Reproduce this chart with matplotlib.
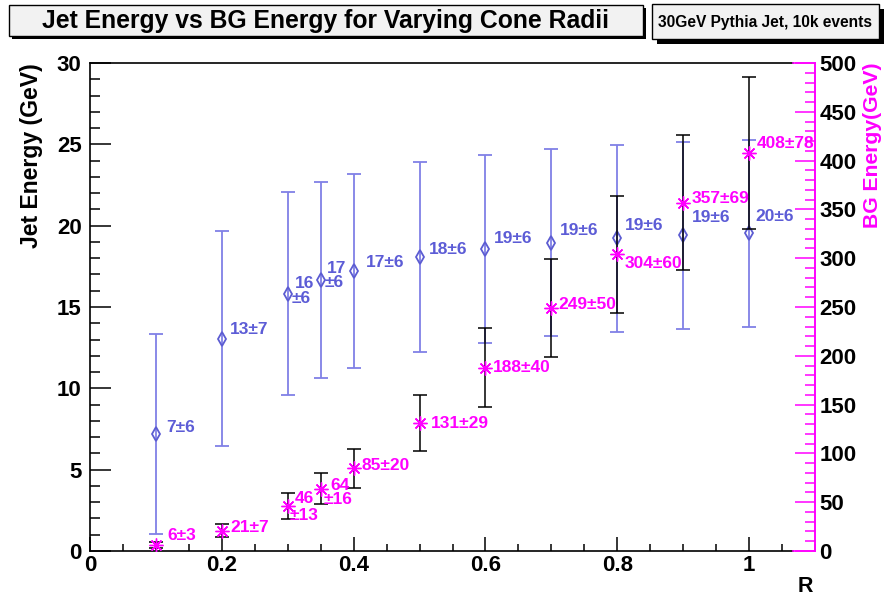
import matplotlib
matplotlib.use("Agg")
import matplotlib.pyplot as plt
from matplotlib.patches import Rectangle
from matplotlib.ticker import MultipleLocator, FuncFormatter

# ---------------- data ----------------
R = [0.1, 0.2, 0.3, 0.35, 0.4, 0.5, 0.6, 0.7, 0.8, 0.9, 1.0]
jet_E = [7.18, 13.06, 15.82, 16.64, 17.23, 18.07, 18.58, 18.95, 19.22, 19.40, 19.52]
jet_err = [6.14, 6.60, 6.25, 6.02, 5.96, 5.82, 5.79, 5.74, 5.74, 5.76, 5.76]
bg_E = [6, 21, 46, 64, 85, 131, 188, 249, 304, 357, 408]
bg_err = [3, 7, 13, 16, 20, 29, 40, 50, 60, 69, 78]
jet_labels = ["7±6", "13±7", "16\n±6", "17\n±6", "17±6", "18±6", "19±6", "19±6", "19±6", "19±6", "20±6"]
bg_labels = ["6±3", "21±7", "46\n±13", "64\n±16", "85±20", "131±29", "188±40", "249±50", "304±60", "357±69", "408±78"]
title = "Jet Energy vs BG Energy for Varying Cone Radii"
subtitle = "30GeV Pythia Jet, 10k events"

# label placement (pixel offsets from the point, per text line; y down)
jet_off = [[(10, -6.6)], [(8, -9)], [(6.7, -9.7), (3.4, 4.6)], [(6, -12), (4.3, 2.4)],
           [(12, -8.7)], [(9.3, -8)], [(8.3, -10)], [(9, -12.7)], [(7.8, -13)],
           [(8.4, -18.4)], [(6, -16.6)]]
bg_off = [[(11.3, -10)], [(8.7, -3)], [(6.6, -7.2), (1.6, 9.3)], [(9.3, -3.5), (2.6, 10.5)],
          [(7.7, -2.3)], [(11.7, 0)], [(7.6, 0)], [(7, -3)], [(7.6, 9.7)],
          [(8, -4.3)], [(8, -9.3)]]

# ---------------- style ----------------
plt.rcParams['font.family'] = ['Liberation Sans', 'DejaVu Sans']
plt.rcParams['font.weight'] = 'bold'
MAG = '#ff00ff'
BLUE_BAR = '#8080e6'
BLUE_MK = '#5c5cd2'
BLUE_TXT = '#5c5cd6'
LAB_FS = 12.5

W, H = 884, 597
fig = plt.figure(figsize=(W / 100, H / 100), dpi=100)
fig.patch.set_facecolor('white')

L, Rr, T, B = 90, 815, 63, 551
ax = fig.add_axes([L / W, 1 - B / H, (Rr - L) / W, (B - T) / H])
ax2 = ax.twinx()

ax.set_xlim(0, 1.1)
ax.set_ylim(0, 30)
ax2.set_ylim(0, 500)

# Jet energy (blue)
ax.errorbar(R, jet_E, yerr=jet_err, fmt='none', ecolor=BLUE_BAR, elinewidth=1.3,
            capsize=5, capthick=1.3, zorder=2)
# BG energy (black bars, magenta stars)
ax2.errorbar(R, bg_E, yerr=bg_err, fmt='none', ecolor='black', elinewidth=1.1,
             capsize=5, capthick=1.1, zorder=3)
ax2.set_ylim(0, 500)
ax.plot(R, jet_E, linestyle='none', marker='d', markersize=7.5, markerfacecolor='none',
        markeredgecolor=BLUE_MK, markeredgewidth=1.3, zorder=5)
ax2.plot(R, bg_E, linestyle='none', marker=(8, 2, 0), markersize=10,
         markeredgecolor=MAG, markeredgewidth=1.0, color=MAG, zorder=6)

# labels
for x, y, lab, offs in zip(R, jet_E, jet_labels, jet_off):
    for line, (dx, dy) in zip(lab.split('\n'), offs):
        ax.annotate(line, (x, y), xytext=(dx, -dy), textcoords='offset pixels',
                    ha='left', va='center', fontsize=LAB_FS, color=BLUE_TXT,
                    fontweight='bold', zorder=7)
for x, y, lab, offs in zip(R, bg_E, bg_labels, bg_off):
    for line, (dx, dy) in zip(lab.split('\n'), offs):
        ax2.annotate(line, (x, y), xytext=(dx, -dy), textcoords='offset pixels',
                     ha='left', va='center', fontsize=LAB_FS, color=MAG,
                     fontweight='bold', zorder=7)

# ticks
ax.xaxis.set_major_locator(MultipleLocator(0.2))
ax.xaxis.set_minor_locator(MultipleLocator(0.05))
ax.xaxis.set_major_formatter(FuncFormatter(lambda v, p: '%g' % round(v, 3)))
ax.yaxis.set_major_locator(MultipleLocator(5))
ax.yaxis.set_minor_locator(MultipleLocator(1))
ax2.yaxis.set_major_locator(MultipleLocator(50))
ax2.yaxis.set_minor_locator(MultipleLocator(10))

ax.tick_params(axis='x', which='major', direction='in', length=10, width=1.1,
               labelsize=16, pad=3, top=False, colors='black')
ax.tick_params(axis='x', which='minor', direction='in', length=5.4, width=1.1, top=False)
ax.tick_params(axis='y', which='major', direction='in', length=15, width=1.1,
               labelsize=16, pad=6, right=False)
ax.tick_params(axis='y', which='minor', direction='in', length=7.5, width=1.1, right=False)
ax2.tick_params(axis='y', which='major', direction='in', length=14.4, width=1.1,
                labelsize=16, pad=3, color=MAG, labelcolor='black')
ax2.tick_params(axis='y', which='minor', direction='in', length=7.2, width=1.1, color=MAG)
for lab in ax.get_xticklabels() + ax.get_yticklabels() + ax2.get_yticklabels():
    lab.set_fontweight('bold')

# spines
xsplit = 1.0667
for s in ('top', 'bottom'):
    ax.spines[s].set_bounds(0, xsplit)
    ax.spines[s].set_color('black')
    ax.spines[s].set_linewidth(1.2)
    ax2.spines[s].set_bounds(xsplit, 1.1)
    ax2.spines[s].set_color(MAG)
    ax2.spines[s].set_linewidth(1.2)
ax.spines['right'].set_visible(False)
ax2.spines['left'].set_visible(False)
ax.spines['left'].set_linewidth(1.2)
ax2.spines['right'].set_color(MAG)
ax2.spines['right'].set_linewidth(1.4)

# axis titles
fig.text(32 / W, 1 - 63 / H, "Jet Energy (GeV)", rotation=90, ha='center', va='top',
         fontsize=16.6, fontweight='bold', color='black')
fig.text(873 / W, 1 - 62 / H, "BG Energy(GeV)", rotation=90, ha='center', va='top',
         fontsize=15.2, fontweight='bold', color=MAG)
fig.text(813 / W, 1 - 587 / H, "R", ha='right', va='center', fontsize=15.5,
         fontweight='bold', color='black')

# title boxes with shadows
def box(x0, y0, x1, y1, sh):
    fig.add_artist(Rectangle(((x0 + sh) / W, 1 - (y1 + sh) / H), (x1 - x0) / W, (y1 - y0) / H,
                             transform=fig.transFigure, facecolor='black', edgecolor='black',
                             linewidth=0))
    fig.add_artist(Rectangle((x0 / W, 1 - y1 / H), (x1 - x0) / W, (y1 - y0) / H,
                             transform=fig.transFigure, facecolor='#f2f2f2', edgecolor='black',
                             linewidth=1))

box(9, 5, 643, 36, 3)
box(652, 4, 879, 39, 5)
fig.text((9 + 643) / 2 / W, 1 - 21 / H, title, ha='center', va='center', fontsize=17.8,
         fontweight='bold', color='black')
fig.text((652 + 879) / 2 / W, 1 - 22 / H, subtitle, ha='center', va='center', fontsize=11.2,
         fontweight='bold', color='black')

fig.savefig('out.png', dpi=100)
